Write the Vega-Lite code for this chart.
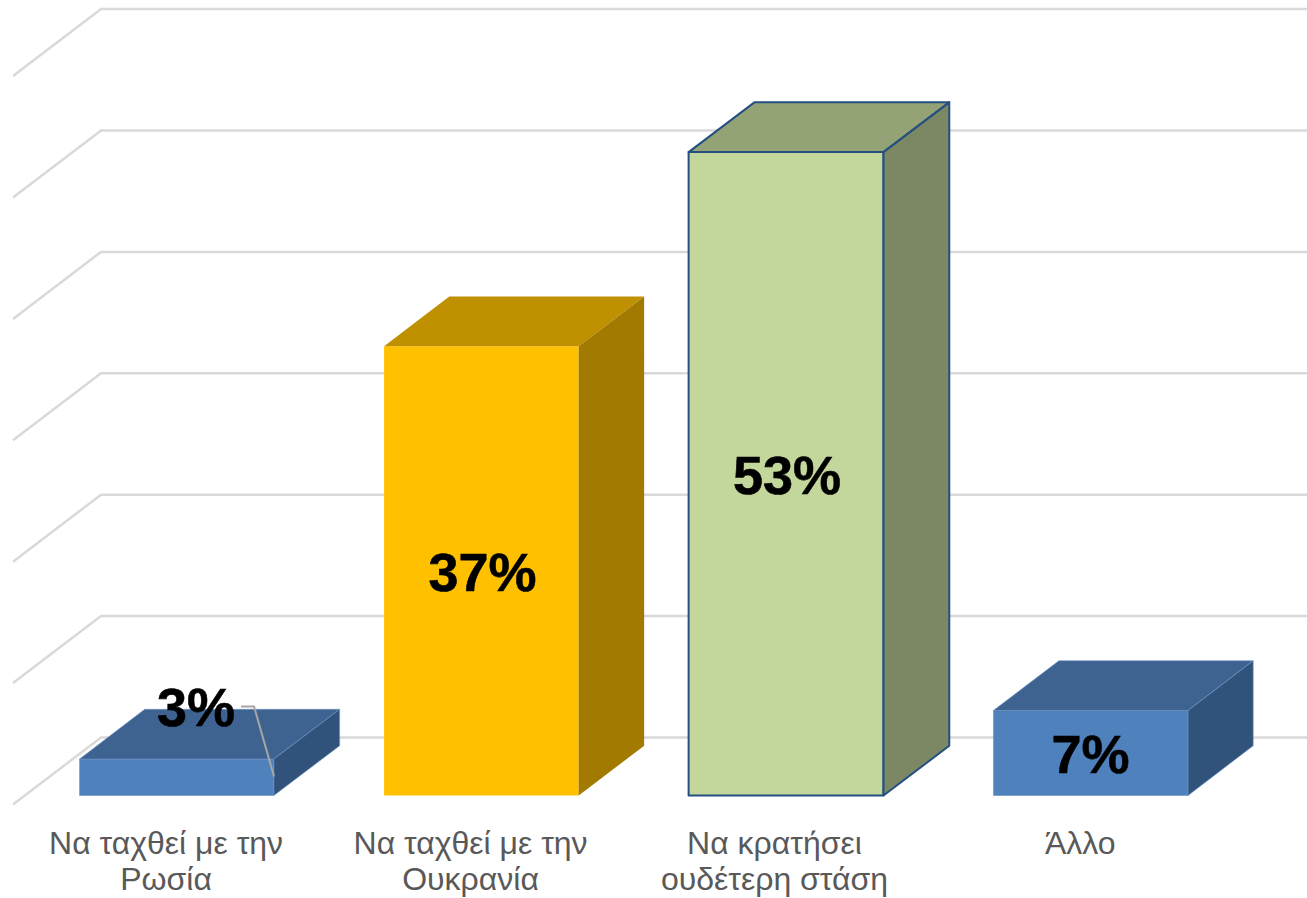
{"$schema":"https://vega.github.io/schema/vega-lite/v6.json","width":1307,"height":898,"autosize":{"type":"fit","contains":"padding"},"padding":0,"background":"#ffffff","config":{"view":{"stroke":null}},
"datasets":{"grid":[
{"level":0,"x":0.4614,"y":-0.74},{"level":0,"x":0.7504,"y":4.78},{"level":0,"x":4.7107,"y":4.78},
{"level":10,"x":0.4614,"y":9.26},{"level":10,"x":0.7504,"y":14.78},{"level":10,"x":4.7107,"y":14.78},
{"level":20,"x":0.4614,"y":19.26},{"level":20,"x":0.7504,"y":24.78},{"level":20,"x":4.7107,"y":24.78},
{"level":30,"x":0.4614,"y":29.26},{"level":30,"x":0.7504,"y":34.78},{"level":30,"x":4.7107,"y":34.78},
{"level":40,"x":0.4614,"y":39.26},{"level":40,"x":0.7504,"y":44.78},{"level":40,"x":4.7107,"y":44.78},
{"level":50,"x":0.4614,"y":49.26},{"level":50,"x":0.7504,"y":54.78},{"level":50,"x":4.7107,"y":54.78},
{"level":60,"x":0.4614,"y":59.26},{"level":60,"x":0.7504,"y":64.78},{"level":60,"x":4.7107,"y":64.78}],
"faces":[
{"bar":"Ρωσία","part":"Ρωσία front","x":0.68,"y":3,"y2":0},{"bar":"Ρωσία","part":"Ρωσία front","x":1.318,"y":3,"y2":0},
{"bar":"Ρωσία","part":"Ρωσία top","x":0.68,"y":3,"y2":3},{"bar":"Ρωσία","part":"Ρωσία top","x":0.894,"y":7.1,"y2":3},{"bar":"Ρωσία","part":"Ρωσία top","x":1.318,"y":7.1,"y2":3},{"bar":"Ρωσία","part":"Ρωσία top","x":1.534,"y":7.1,"y2":7.1},
{"bar":"Ρωσία","part":"Ρωσία side","x":1.318,"y":3,"y2":0},{"bar":"Ρωσία","part":"Ρωσία side","x":1.534,"y":7.1,"y2":4.1},
{"bar":"Ουκρανία","part":"Ουκρανία front","x":1.68,"y":37,"y2":0},{"bar":"Ουκρανία","part":"Ουκρανία front","x":2.319,"y":37,"y2":0},
{"bar":"Ουκρανία","part":"Ουκρανία top","x":1.68,"y":37,"y2":37},{"bar":"Ουκρανία","part":"Ουκρανία top","x":1.894,"y":41.1,"y2":37},{"bar":"Ουκρανία","part":"Ουκρανία top","x":2.319,"y":41.1,"y2":37},{"bar":"Ουκρανία","part":"Ουκρανία top","x":2.534,"y":41.1,"y2":41.1},
{"bar":"Ουκρανία","part":"Ουκρανία side","x":2.319,"y":37,"y2":0},{"bar":"Ουκρανία","part":"Ουκρανία side","x":2.534,"y":41.1,"y2":4.1},
{"bar":"Ουδέτερη","part":"Ουδέτερη front","x":2.68,"y":53,"y2":0},{"bar":"Ουδέτερη","part":"Ουδέτερη front","x":3.32,"y":53,"y2":0},
{"bar":"Ουδέτερη","part":"Ουδέτερη top","x":2.68,"y":53,"y2":53},{"bar":"Ουδέτερη","part":"Ουδέτερη top","x":2.896,"y":57.1,"y2":53},{"bar":"Ουδέτερη","part":"Ουδέτερη top","x":3.32,"y":57.1,"y2":53},{"bar":"Ουδέτερη","part":"Ουδέτερη top","x":3.536,"y":57.1,"y2":57.1},
{"bar":"Ουδέτερη","part":"Ουδέτερη side","x":3.32,"y":53,"y2":0},{"bar":"Ουδέτερη","part":"Ουδέτερη side","x":3.536,"y":57.1,"y2":4.1},
{"bar":"Άλλο","part":"Άλλο front","x":3.681,"y":7,"y2":0},{"bar":"Άλλο","part":"Άλλο front","x":4.32,"y":7,"y2":0},
{"bar":"Άλλο","part":"Άλλο top","x":3.681,"y":7,"y2":7},{"bar":"Άλλο","part":"Άλλο top","x":3.896,"y":11.1,"y2":7},{"bar":"Άλλο","part":"Άλλο top","x":4.32,"y":11.1,"y2":7},{"bar":"Άλλο","part":"Άλλο top","x":4.534,"y":11.1,"y2":11.1},
{"bar":"Άλλο","part":"Άλλο side","x":4.32,"y":7,"y2":0},{"bar":"Άλλο","part":"Άλλο side","x":4.534,"y":11.1,"y2":4.1}],
"leader":[{"x":1.21,"y":7.33},{"x":1.253,"y":7.33},{"x":1.3186,"y":1.565}],
"values":[{"label":"3%","x":1.062,"y":5.72},{"label":"37%","x":2.003,"y":16.84},{"label":"53%","x":3.003,"y":24.83},{"label":"7%","x":4.0,"y":1.85}],
"cats":[{"label":"Να ταχθεί με την\nΡωσία","x":0.964,"y":-4.84},{"label":"Να ταχθεί με την\nΟυκρανία","x":1.964,"y":-4.84},{"label":"Να κρατήσει\nουδέτερη στάση","x":2.962,"y":-4.84},{"label":"Άλλο","x":3.966,"y":-4.84}]},
"encoding":{"x":{"field":"x","type":"quantitative","axis":null,"scale":{"domain":[0.4187,4.7107],"nice":false,"zero":false}},"y":{"field":"y","type":"quantitative","axis":null,"scale":{"domain":[-8.444,65.53],"nice":false,"zero":false}}},
"layer":[
{"data":{"name":"grid"},"mark":{"type":"line","stroke":"#D9D9D9","strokeWidth":2.5,"clip":true},"encoding":{"detail":{"field":"level","type":"nominal"}}},
{"data":{"name":"faces"},"encoding":{"y2":{"field":"y2"},"color":{"field":"part","type":"nominal","legend":null,"scale":{"domain":["Ρωσία front","Ρωσία top","Ρωσία side","Ουκρανία front","Ουκρανία top","Ουκρανία side","Ουδέτερη front","Ουδέτερη top","Ουδέτερη side","Άλλο front","Άλλο top","Άλλο side"],"range":["#4F81BD","#3F6390","#31527A","#FFC000","#BF9000","#A27A00","#C3D69B","#93A376","#7C8863","#4F81BD","#3F6390","#31527A"]}}},
"layer":[
{"transform":[{"filter":"datum.bar==='Ρωσία'||datum.bar==='Άλλο'"}],"mark":{"type":"area","stroke":"#6D95C8","strokeWidth":0.8,"strokeOpacity":0.8}},
{"transform":[{"filter":"datum.bar==='Ουκρανία'"}],"mark":{"type":"area"}},
{"transform":[{"filter":"datum.bar==='Ουδέτερη'"}],"mark":{"type":"area","stroke":"#254F80","strokeWidth":2,"strokeJoin":"round"}}]},
{"data":{"name":"leader"},"mark":{"type":"line","stroke":"#A6A6A6","strokeWidth":2}},
{"data":{"name":"values"},"mark":{"type":"text","font":"Liberation Sans","fontSize":54,"fontWeight":"bold","color":"#000000","stroke":"#000000","strokeWidth":0.6,"align":"center","baseline":"alphabetic"},"encoding":{"text":{"field":"label"}}},
{"data":{"name":"cats"},"mark":{"type":"text","font":"Liberation Sans","fontSize":32,"color":"#595959","align":"center","baseline":"alphabetic","lineBreak":"\n","lineHeight":36},"encoding":{"text":{"field":"label"}}}
]}
